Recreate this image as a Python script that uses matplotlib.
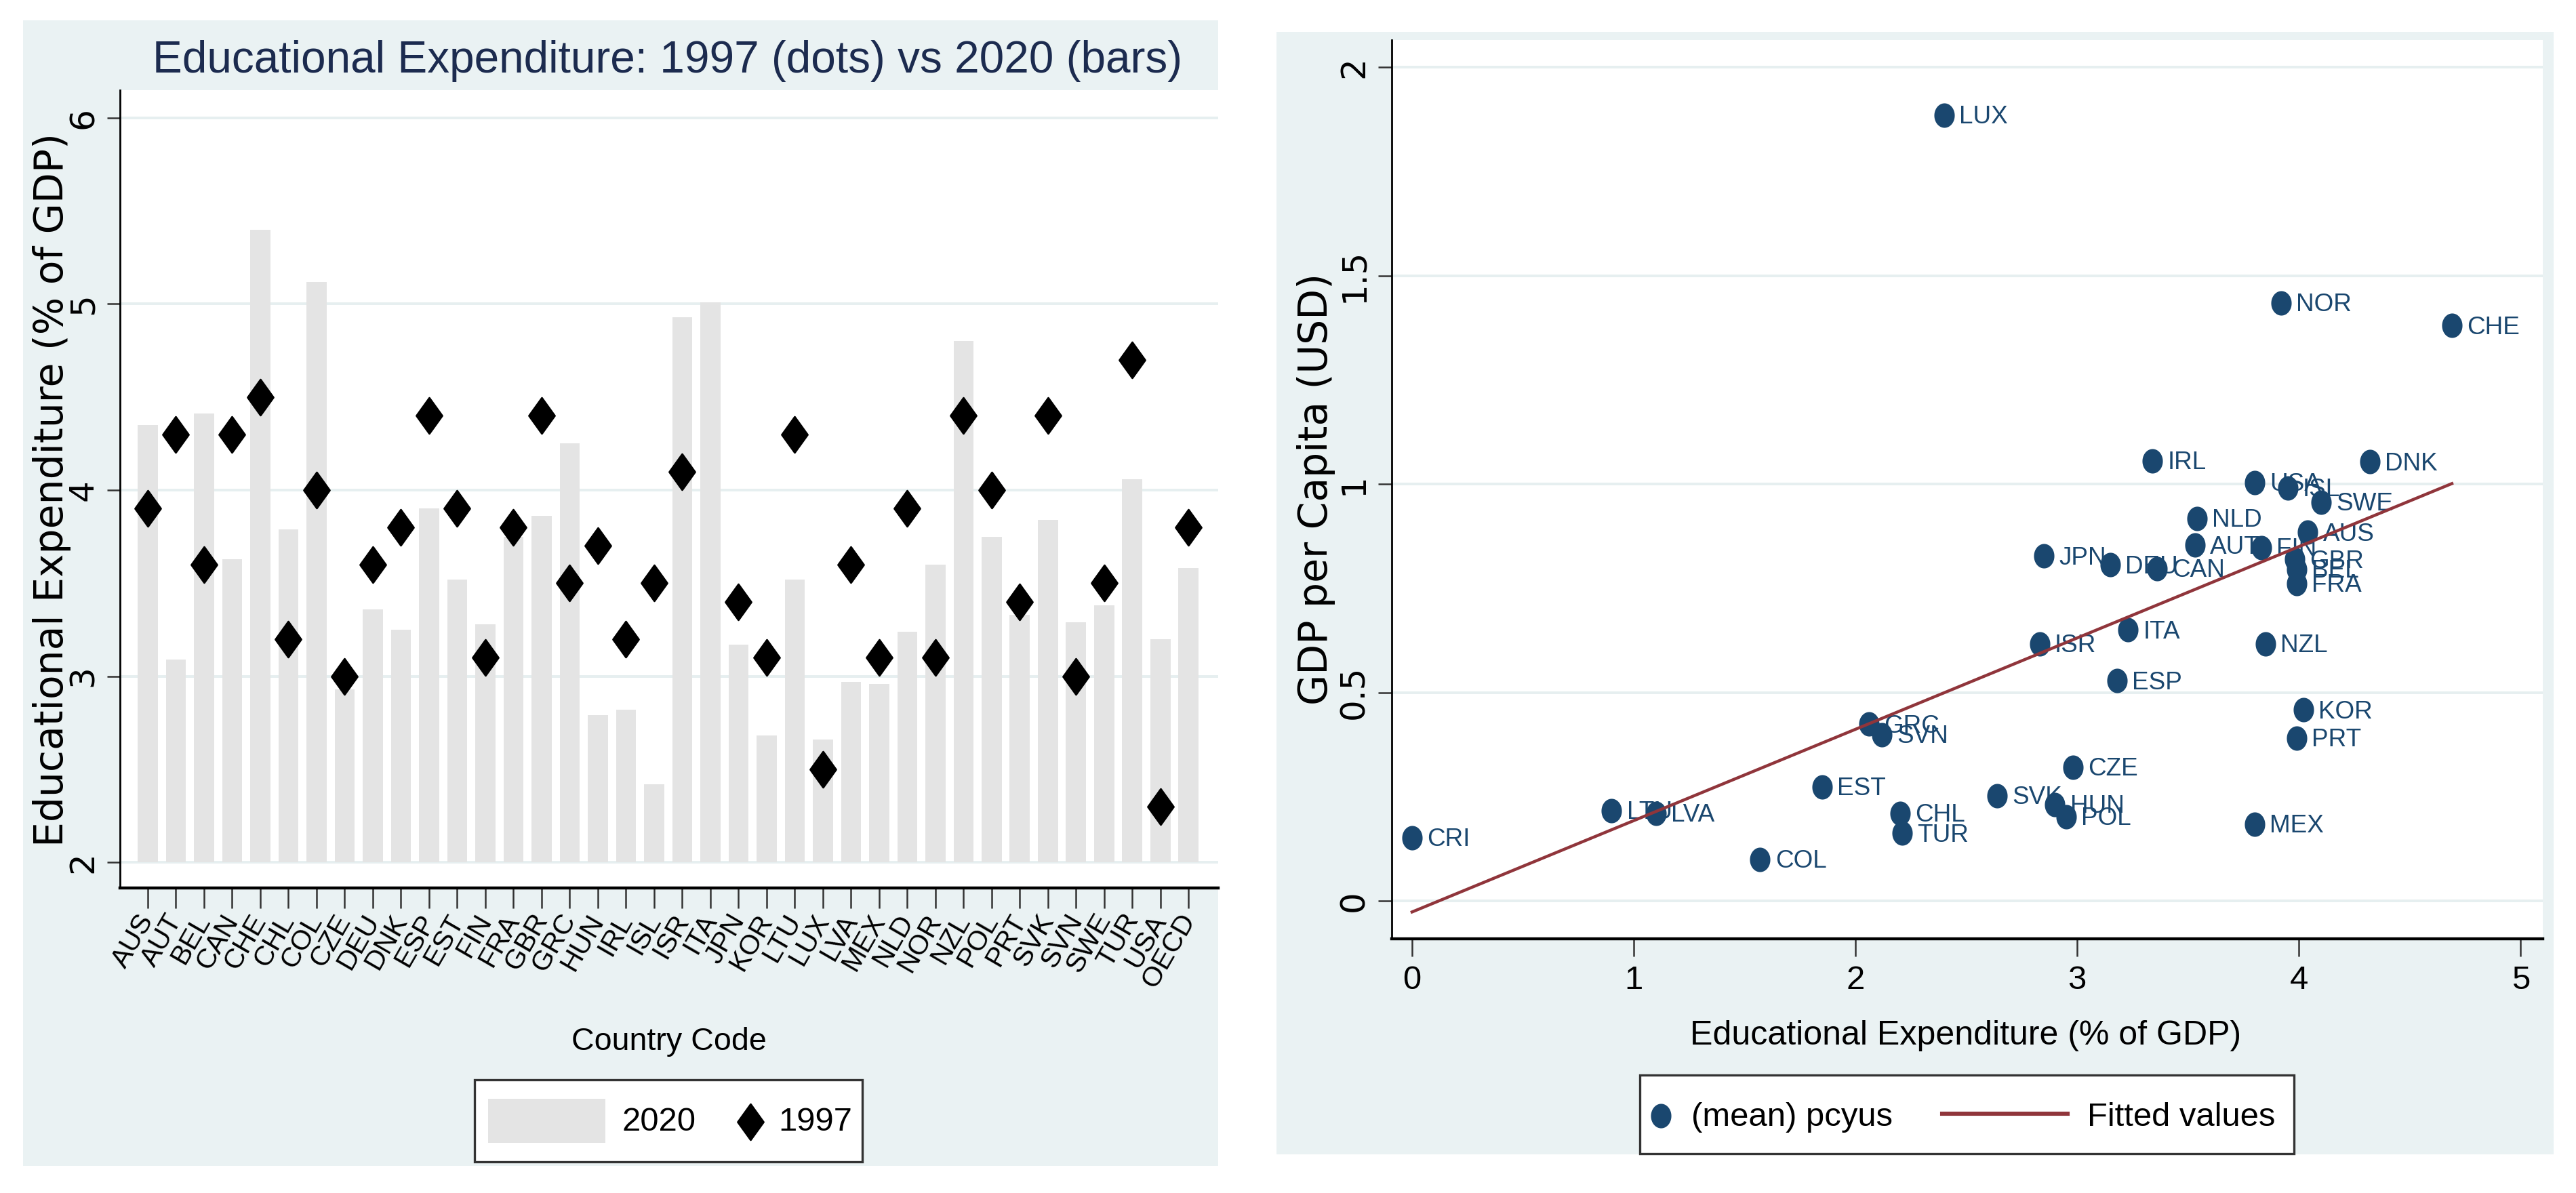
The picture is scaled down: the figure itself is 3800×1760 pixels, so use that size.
import numpy as np
import matplotlib
matplotlib.use('Agg')
import matplotlib.pyplot as plt
from matplotlib import font_manager as fm
from matplotlib.patches import Rectangle
from matplotlib.lines import Line2D
from matplotlib.path import Path

# ---------------- data ----------------
countries = ['AUS', 'AUT', 'BEL', 'CAN', 'CHE', 'CHL', 'COL', 'CZE', 'DEU', 'DNK',
             'ESP', 'EST', 'FIN', 'FRA', 'GBR', 'GRC', 'HUN', 'IRL', 'ISL', 'ISR',
             'ITA', 'JPN', 'KOR', 'LTU', 'LUX', 'LVA', 'MEX', 'NLD', 'NOR', 'NZL',
             'POL', 'PRT', 'SVK', 'SVN', 'SWE', 'TUR', 'USA', 'OECD']
edu_2020 = [4.35, 3.09, 4.41, 3.63, 5.40, 3.79, 5.12, 2.93, 3.36, 3.25,
            3.90, 3.52, 3.28, 3.75, 3.86, 4.25, 2.79, 2.82, 2.42, 4.93,
            5.01, 3.17, 2.68, 3.52, 2.66, 2.97, 2.96, 3.24, 3.60, 4.80,
            3.75, 3.33, 3.84, 3.29, 3.38, 4.06, 3.20, 3.58]
edu_1997 = [3.9, 4.3, 3.6, 4.3, 4.5, 3.2, 4.0, 3.0, 3.6, 3.8,
            4.4, 3.9, 3.1, 3.8, 4.4, 3.5, 3.7, 3.2, 3.5, 4.1,
            np.nan, 3.4, 3.1, 4.3, 2.5, 3.6, 3.1, 3.9, 3.1, 4.4,
            4.0, 3.4, 4.4, 3.0, 3.5, 4.7, 2.3, 3.8]
left_yticks = [2, 3, 4, 5, 6]

sc_codes = ['LUX', 'NOR', 'CHE', 'IRL', 'DNK', 'USA', 'ISL', 'SWE', 'NLD', 'AUS',
            'AUT', 'FIN', 'JPN', 'DEU', 'CAN', 'GBR', 'BEL', 'FRA', 'ITA', 'ISR',
            'NZL', 'ESP', 'KOR', 'PRT', 'GRC', 'SVN', 'CZE', 'EST', 'SVK', 'HUN',
            'POL', 'CHL', 'TUR', 'MEX', 'LTU', 'LVA', 'CRI', 'COL']
sc_edu = [2.40, 3.92, 4.69, 3.34, 4.32, 3.80, 3.95, 4.10, 3.54, 4.04,
          3.53, 3.83, 2.85, 3.15, 3.36, 3.98, 3.99, 3.99, 3.23, 2.83,
          3.85, 3.18, 4.02, 3.99, 2.06, 2.12, 2.98, 1.85, 2.64, 2.90,
          2.95, 2.20, 2.21, 3.80, 0.90, 1.10, 0.00, 1.57]
sc_gdp = [1.885, 1.434, 1.380, 1.056, 1.053, 1.003, 0.991, 0.957, 0.917, 0.884,
          0.853, 0.848, 0.827, 0.806, 0.797, 0.819, 0.796, 0.761, 0.650, 0.616,
          0.616, 0.528, 0.458, 0.391, 0.424, 0.399, 0.321, 0.273, 0.252, 0.231,
          0.202, 0.210, 0.162, 0.184, 0.217, 0.210, 0.151, 0.099]
right_xticks = [0, 1, 2, 3, 4, 5]
right_yticks = [0, 0.5, 1, 1.5, 2]
right_yticklabels = ['0', '0.5', '1', '1.5', '2']

# ---------------- style ----------------
BG = '#eaf2f3'
GRID = '#e6eff0'
BAR = '#e4e4e4'
NAVY = '#1a476f'
MAROON = '#90353b'
TITLE_C = '#1c2b4f'
WIDE = 'DejaVu Sans'


def has_font(name):
    try:
        fm.findfont(fm.FontProperties(family=name), fallback_to_default=False)
        return True
    except Exception:
        return False


if has_font('Liberation Sans Narrow'):
    NARROW, S = 'Liberation Sans Narrow', 1.0
else:
    NARROW, S = 'Liberation Sans', 0.82

W, H = 3800, 1760
fig = plt.figure(figsize=(19, 8.8), dpi=200)
fig.patch.set_facecolor('white')


def fx(p):
    return p / W


def fy(p):
    return 1 - p / H


def fbox(x0, y0, x1, y1):
    return [x0 / W, 1 - y1 / H, (x1 - x0) / W, (y1 - y0) / H]


def frect(x0, y0, x1, y1, **kw):
    r = Rectangle((fx(x0), fy(y1)), (x1 - x0) / W, (y1 - y0) / H,
                  transform=fig.transFigure, **kw)
    fig.add_artist(r)
    return r


# panel backgrounds
frect(34, 30, 1797, 1720, facecolor=BG, edgecolor='none', zorder=0)
frect(1883, 47, 3767, 1703, facecolor=BG, edgecolor='none', zorder=0)

diamond = Path([(0, 1), (0.72, 0), (0, -1), (-0.72, 0), (0, 1)], closed=True)
tt = np.linspace(0, 2 * np.pi, 65)
ellipse = Path(np.column_stack([0.82 * np.cos(tt), np.sin(tt)]), closed=True)

# ---------------- left chart ----------------
ax1 = fig.add_axes(fbox(176.5, 133, 1797, 1310))
ax1.set_facecolor('white')
xpos = np.arange(1, len(countries) + 1)
ax1.bar(xpos, np.array(edu_2020) - 2, bottom=2, width=0.72, color=BAR,
        edgecolor='none', zorder=2)
ax1.plot(xpos, edu_1997, ls='none', marker=diamond, ms=19, color='black',
         mec='black', zorder=3)
ax1.set_xlim(0, 39.05)
ax1.set_ylim(1.862, 6.149)
ax1.set_yticks(left_yticks)
ax1.set_yticklabels([str(v) for v in left_yticks])
ax1.yaxis.grid(True, color=GRID, lw=1.4, zorder=1)
ax1.set_axisbelow(True)
for sp in ['top', 'right']:
    ax1.spines[sp].set_visible(False)
ax1.spines['left'].set_linewidth(1.0)
ax1.spines['bottom'].set_linewidth(1.6)
ax1.tick_params(axis='y', length=7, width=0.9, color='#333333', pad=12.4,
                labelsize=18)
for lab in ax1.get_yticklabels():
    lab.set_rotation(90)
    lab.set_ha('center')
    lab.set_va('center')
    lab.set_family(WIDE)
ax1.set_xticks(xpos)
ax1.set_xticklabels(countries, rotation=60, ha='right', va='center',
                    rotation_mode='anchor', family=NARROW, fontsize=18 * S)
ax1.tick_params(axis='x', length=10.8, width=0.9, color='#333333', pad=4)

fig.text(fx(985), fy(107), 'Educational Expenditure: 1997 (dots) vs 2020 (bars)',
         ha='center', va='baseline', fontsize=28.9 * S, color=TITLE_C, family=NARROW)
fig.text(fx(77), fy(723), 'Educational Expenditure (% of GDP)', rotation=90,
         ha='center', va='center', fontsize=21, family=WIDE)
fig.text(fx(987), fy(1549), 'Country Code', ha='center', va='baseline',
         fontsize=20.5 * S, family=NARROW)

# left legend
frect(700, 1593, 1272, 1714, facecolor='white', edgecolor='#333333', lw=1.2, zorder=5)
frect(720, 1621, 893, 1686, facecolor=BAR, edgecolor='none', zorder=6)
fig.text(fx(918), fy(1655), '2020', ha='left', va='center', fontsize=21.5 * S,
         family=NARROW, zorder=6)
fig.add_artist(Line2D([fx(1107)], [fy(1655)], ls='none', marker=diamond, ms=19,
                      color='black', transform=fig.transFigure, zorder=6))
fig.text(fx(1148), fy(1655), '1997', ha='left', va='center', fontsize=21.5 * S,
         family=NARROW, zorder=6)

# ---------------- right chart ----------------
ax2 = fig.add_axes(fbox(2052.6, 58.5, 3751, 1385))
ax2.set_facecolor('white')
ax2.plot(sc_edu, sc_gdp, ls='none', marker=ellipse, ms=12, color=NAVY,
         mec=NAVY, zorder=3)
for code, xv, yv in zip(sc_codes, sc_edu, sc_gdp):
    ax2.annotate(code, (xv, yv), xytext=(8, -1), textcoords='offset points',
                 ha='left', va='center', fontsize=16.2 * S, family=NARROW,
                 color=NAVY, zorder=3)
coef = np.polyfit(sc_edu, sc_gdp, 1)
xs = np.array([min(sc_edu), max(sc_edu)])
ax2.plot(xs, np.polyval(coef, xs), color=MAROON, lw=1.6, zorder=4)
ax2.set_xlim(-0.093, 5.10)
ax2.set_ylim(-0.091, 2.066)
ax2.set_xticks(right_xticks)
ax2.set_xticklabels([str(v) for v in right_xticks], family=NARROW, fontsize=21.5 * S)
ax2.set_yticks(right_yticks)
ax2.set_yticklabels(right_yticklabels)
ax2.yaxis.grid(True, color=GRID, lw=1.4, zorder=1)
ax2.set_axisbelow(True)
for sp in ['top', 'right']:
    ax2.spines[sp].set_visible(False)
ax2.spines['left'].set_linewidth(1.0)
ax2.spines['bottom'].set_linewidth(1.6)
ax2.tick_params(axis='x', length=9.4, width=0.9, color='#333333', pad=4.7)
ax2.tick_params(axis='y', length=7.2, width=0.9, color='#333333', pad=12.8,
                labelsize=18)
for lab in ax2.get_yticklabels():
    lab.set_rotation(90)
    lab.set_ha('center')
    lab.set_va('center')
    lab.set_family(WIDE)

fig.text(fx(2900), fy(1541), 'Educational Expenditure (% of GDP)', ha='center',
         va='baseline', fontsize=22 * S, family=NARROW)
fig.text(fx(1942), fy(721), 'GDP per Capita (USD)', rotation=90, ha='center',
         va='center', fontsize=21, family=WIDE)

# right legend
frect(2419, 1586, 3384, 1702, facecolor='white', edgecolor='#333333', lw=1.2, zorder=5)
fig.add_artist(Line2D([fx(2450)], [fy(1646)], ls='none', marker=ellipse, ms=12,
                      color=NAVY, transform=fig.transFigure, zorder=6))
fig.text(fx(2495), fy(1648), '(mean) pcyus', ha='left', va='center',
         fontsize=21.5 * S, family=NARROW, zorder=6)
fig.add_artist(Line2D([fx(2865), fx(3050)], [fy(1643), fy(1643)], color=MAROON,
                      lw=2.2, transform=fig.transFigure, zorder=6))
fig.text(fx(3079), fy(1648), 'Fitted values', ha='left', va='center',
         fontsize=21.5 * S, family=NARROW, zorder=6)

fig.savefig('out.png', dpi=200, facecolor='white')
